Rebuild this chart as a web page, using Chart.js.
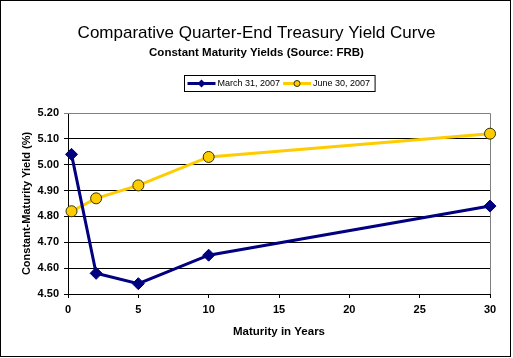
<!DOCTYPE html>
<html lang="en">
<head>
    <meta charset="UTF-8">
    <title>Treasury Yield Curve</title>
    <style>
        html, body { margin: 0; padding: 0; background: #fff; }
        canvas { display: block; }
    </style>
</head>
<body>
    <canvas id="myChart" width="513" height="358"></canvas>

    <script src="https://cdn.jsdelivr.net/npm/chart.js@4"></script>
    <script>
        // data
        const maturities = [0.25, 2, 5, 10, 30];
        const march2007 = [5.04, 4.58, 4.54, 4.65, 4.84];
        const june2007 = [4.82, 4.87, 4.92, 5.03, 5.12];
        const seriesNames = ['March 31, 2007', 'June 30, 2007'];
        const yTicks = [4.50, 4.60, 4.70, 4.80, 4.90, 5.00, 5.10, 5.20];
        const xTicks = [0, 5, 10, 15, 20, 25, 30];

        const NAVY = '#000080';
        const GOLD = '#FFCC00';
        const FONT = '"Liberation Sans", Arial, sans-serif';

        const toPoints = (vals) => vals.map((v, i) => ({ x: maturities[i], y: v }));

        // white background, plot frame, legend box, outer border
        const framePlugin = {
            id: 'frame',
            beforeDraw(chart) {
                const c = chart.ctx;
                c.save();
                c.fillStyle = '#fff';
                c.fillRect(0, 0, chart.width, chart.height);
                c.restore();
            },
            beforeDatasetsDraw(chart) {
                const c = chart.ctx;
                const a = chart.chartArea;
                c.save();
                c.strokeStyle = '#808080';
                c.lineWidth = 1;
                c.beginPath();
                c.moveTo(a.left, Math.round(a.top) + 0.5);
                c.lineTo(Math.round(a.right) + 0.5, Math.round(a.top) + 0.5);
                c.lineTo(Math.round(a.right) + 0.5, a.bottom);
                c.stroke();
                c.restore();
            },
            afterDraw(chart) {
                const c = chart.ctx;
                const a = chart.chartArea;
                c.save();
                // legend
                c.font = '9px ' + FONT;
                const w0 = c.measureText(seriesNames[0]).width;
                const w1 = c.measureText(seriesNames[1]).width;
                const lineLen = 28;
                const boxW = 3 + lineLen + 2 + w0 + 3 + lineLen + 2 + w1 + 5;
                const cx = (a.left + a.right) / 2;
                const bx = Math.round(cx - boxW / 2) + 0.5;
                const by = 75.5, bh = 16;
                c.fillStyle = '#fff';
                c.fillRect(bx, by, boxW, bh);
                c.strokeStyle = '#000';
                c.lineWidth = 1;
                c.strokeRect(bx, by, boxW, bh);
                const my = by + bh / 2;
                let x = bx + 3;
                const items = [
                    { color: NAVY, style: 'diamond', text: seriesNames[0], w: w0 },
                    { color: GOLD, style: 'circle', text: seriesNames[1], w: w1 }
                ];
                items.forEach((it, i) => {
                    c.strokeStyle = it.color;
                    c.lineWidth = 3;
                    c.beginPath();
                    c.moveTo(x, my);
                    c.lineTo(x + lineLen, my);
                    c.stroke();
                    const mx = x + lineLen / 2;
                    c.beginPath();
                    if (it.style === 'diamond') {
                        c.moveTo(mx, my - 4);
                        c.lineTo(mx + 4, my);
                        c.lineTo(mx, my + 4);
                        c.lineTo(mx - 4, my);
                        c.closePath();
                        c.fillStyle = NAVY;
                        c.fill();
                    } else {
                        c.arc(mx, my, 3, 0, Math.PI * 2);
                        c.fillStyle = GOLD;
                        c.fill();
                        c.strokeStyle = '#333300';
                        c.lineWidth = 1;
                        c.stroke();
                    }
                    x += lineLen + 2;
                    c.fillStyle = '#000';
                    c.textBaseline = 'middle';
                    c.textAlign = 'left';
                    c.fillText(it.text, x, my + 0.5);
                    x += it.w + 3;
                });
                // outer border
                c.strokeStyle = '#000';
                c.lineWidth = 1;
                c.strokeRect(0.5, 0.5, 510, 356);
                c.restore();
            }
        };

        const ctx = document.getElementById('myChart').getContext('2d');
        const myChart = new Chart(ctx, {
            type: 'line',
            data: {
                datasets: [
                    {
                        label: seriesNames[0],
                        data: toPoints(march2007),
                        borderColor: NAVY,
                        backgroundColor: NAVY,
                        borderWidth: 3,
                        pointStyle: 'rectRot',
                        pointRadius: 6,
                        pointBackgroundColor: NAVY,
                        pointBorderColor: NAVY,
                        pointBorderWidth: 1,
                        tension: 0,
                        clip: false
                    },
                    {
                        label: seriesNames[1],
                        data: toPoints(june2007),
                        borderColor: GOLD,
                        backgroundColor: GOLD,
                        borderWidth: 3,
                        pointStyle: 'circle',
                        pointRadius: 5.5,
                        pointBackgroundColor: GOLD,
                        pointBorderColor: '#333300',
                        pointBorderWidth: 1,
                        tension: 0,
                        clip: false
                    }
                ]
            },
            options: {
                responsive: false,
                animation: false,
                layout: { padding: 0 },
                plugins: {
                    legend: { display: false },
                    tooltip: { enabled: false },
                    title: {
                        display: true,
                        text: 'Comparative Quarter-End Treasury Yield Curve',
                        color: '#000',
                        font: { family: FONT, size: 17, weight: 'normal', lineHeight: 1.2 },
                        padding: { top: 23, bottom: 0 }
                    },
                    subtitle: {
                        display: true,
                        text: 'Constant Maturity Yields (Source: FRB)',
                        color: '#000',
                        font: { family: FONT, size: 11.5, weight: 'bold', lineHeight: 1.2 },
                        padding: { top: 2.7, bottom: 53.1 }
                    }
                },
                scales: {
                    x: {
                        type: 'linear',
                        min: 0,
                        max: 30,
                        afterBuildTicks: (s) => { s.ticks = xTicks.map(v => ({ value: v })); },
                        afterFit: (s) => { s.height = 64; },
                        ticks: {
                            color: '#000',
                            font: { family: FONT, size: 11, weight: 'bold' },
                            padding: 5,
                            maxRotation: 0
                        },
                        grid: { drawOnChartArea: false, drawTicks: true, tickLength: 4, color: '#000' },
                        border: { display: true, color: '#000', width: 1 },
                        title: {
                            display: true,
                            text: 'Maturity in Years',
                            color: '#000',
                            font: { family: FONT, size: 11.5, weight: 'bold', lineHeight: 1.2 },
                            padding: { top: 0, bottom: 19 }
                        }
                    },
                    y: {
                        min: 4.5,
                        max: 5.2,
                        afterBuildTicks: (s) => { s.ticks = yTicks.map(v => ({ value: v })); },
                        afterFit: (s) => { s.width = 68; },
                        ticks: {
                            color: '#000',
                            font: { family: FONT, size: 11, weight: 'bold' },
                            padding: 5,
                            callback: (v) => Number(v).toFixed(2)
                        },
                        grid: {
                            color: (c) => (c.tick && c.tick.value >= 5.2 - 1e-9) ? '#808080' : '#000',
                            tickLength: 4,
                            drawTicks: true
                        },
                        border: { display: true, color: '#000', width: 1 },
                        title: {
                            display: true,
                            text: 'Constant-Maturity Yield (%)',
                            color: '#000',
                            font: { family: FONT, size: 11, weight: 'bold', lineHeight: 1.2 },
                            padding: { top: 20, bottom: 0 }
                        }
                    },
                    yRight: {
                        position: 'right',
                        display: true,
                        ticks: { display: false },
                        grid: { display: false },
                        border: { display: false },
                        afterFit: (s) => { s.width = 23; }
                    }
                }
            },
            plugins: [framePlugin]
        });
    </script>
</body>
</html>
